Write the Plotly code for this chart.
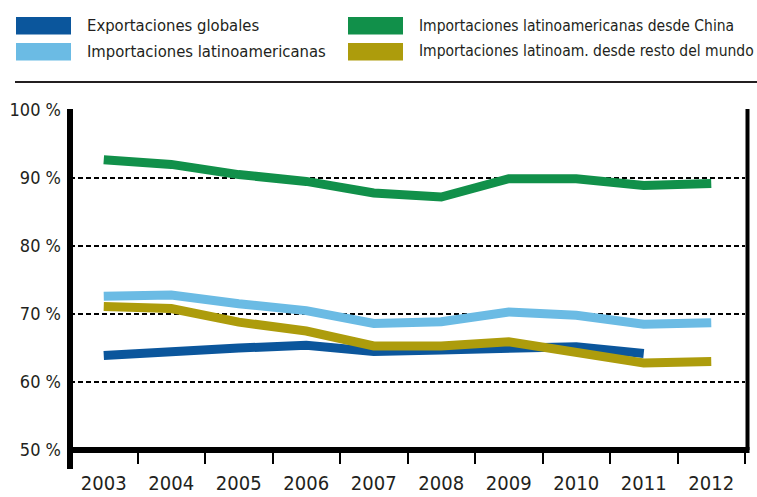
import plotly.graph_objects as go

# Series data (% shares), 2003-2012
years = ["2003", "2004", "2005", "2006", "2007", "2008", "2009", "2010", "2011", "2012"]
exportaciones_globales = [63.9, 64.6, 65.0, 65.4, 64.5, 64.7, 65.0, 65.2, 64.2, None]
import_latam = [72.6, 72.8, 71.5, 70.5, 68.6, 68.85, 70.3, 69.8, 68.5, 68.7]
import_latam_china = [92.7, 92.0, 90.5, 89.5, 87.8, 87.2, 89.9, 89.9, 88.9, 89.2]
import_latam_resto = [71.1, 70.8, 68.8, 67.5, 65.3, 65.3, 65.9, 64.5, 62.8, 63.0]

y_ticks = [50, 60, 70, 80, 90, 100]
y_tick_labels = ["50 %", "60 %", "70 %", "80 %", "90 %", "100 %"]

names = [
    "Exportaciones globales",
    "Importaciones latinoamericanas",
    "Importaciones latinoamericanas desde China",
    "Importaciones latinoam. desde resto del mundo",
]
colors = {
    "exp": "#0b569c",
    "lat": "#6bbbe4",
    "chn": "#11904a",
    "rest": "#ad9c0c",
}

FONT = "DejaVu Sans Condensed, DejaVu Sans, sans-serif"
LW = 9

fig = go.Figure()
# drawing order: green, light blue, dark blue, olive (olive sits over dark blue)
for vals, key in [
    (import_latam_china, "chn"),
    (import_latam, "lat"),
    (exportaciones_globales, "exp"),
    (import_latam_resto, "rest"),
]:
    fig.add_trace(go.Scatter(
        x=years, y=vals, mode="lines",
        line=dict(color=colors[key], width=LW),
        showlegend=False, connectgaps=False, hoverinfo="skip",
    ))

W, H = 757, 497
L, R, T, B = 70, 12, 110, 47
pw = W - L - R
ph = H - T - B

fig.update_layout(
    width=W, height=H,
    margin=dict(l=L, r=R, t=T, b=B),
    paper_bgcolor="white", plot_bgcolor="white",
    font=dict(family=FONT, color="#231f20"),
    xaxis=dict(
        type="category", range=[-0.5, 9.5], automargin=False,
        tickson="boundaries", ticks="outside", ticklen=13, tickwidth=2,
        tickcolor="black", showgrid=False, showline=False, zeroline=False,
        ticklabelstandoff=19,
        tickfont=dict(size=20, family=FONT, color="#231f20"),
    ),
    yaxis=dict(
        range=[50, 100], tickvals=y_ticks, ticktext=y_tick_labels, automargin=False,
        showgrid=True, gridcolor="black", gridwidth=1.5, griddash="5px,3px",
        showline=False, zeroline=False, ticks="",
        ticklabelstandoff=8,
        tickfont=dict(size=18, family=FONT, color="#231f20"),
    ),
)

# axis frame: thick left and bottom lines, right border
px = lambda p: p / pw
py = lambda p: p / ph
fig.add_shape(type="line", xref="paper", yref="paper",
              x0=0, x1=0, y0=1 + py(1), y1=-py(19),
              line=dict(color="black", width=6))
fig.add_shape(type="line", xref="paper", yref="paper",
              x0=-px(3), x1=1 + px(4.5), y0=0, y1=0,
              line=dict(color="black", width=6))
fig.add_shape(type="line", xref="paper", yref="paper",
              x0=1 + px(2.5), x1=1 + px(2.5), y0=0, y1=1 + py(1),
              line=dict(color="black", width=4))

# legend block above the plot, with a rule underneath
legend_items = [
    (names[0], colors["exp"], 16, 17, 16.5),
    (names[1], colors["lat"], 16, 43, 16.5),
    (names[2], colors["chn"], 348, 17, 15.5),
    (names[3], colors["rest"], 348, 43, 15.5),
]
to_px_x = lambda x: (x - L) / pw
to_px_y = lambda y: 1 - (y - T) / ph
for text, col, x0, y0, fs in legend_items:
    fig.add_shape(type="rect", xref="paper", yref="paper",
                  x0=to_px_x(x0), x1=to_px_x(x0 + 55),
                  y0=to_px_y(y0), y1=to_px_y(y0 + 17.5),
                  fillcolor=col, line=dict(width=0))
    fig.add_annotation(xref="paper", yref="paper",
                       x=to_px_x(x0 + 69), y=to_px_y(y0 + 8.5),
                       text=text, showarrow=False, xanchor="left", yanchor="middle",
                       font=dict(size=fs, family=FONT, color="#231f20"))

fig.add_shape(type="line", xref="paper", yref="paper",
              x0=to_px_x(15), x1=to_px_x(757), y0=to_px_y(82), y1=to_px_y(82),
              line=dict(color="#231f20", width=2))

fig.write_html("out.html")
